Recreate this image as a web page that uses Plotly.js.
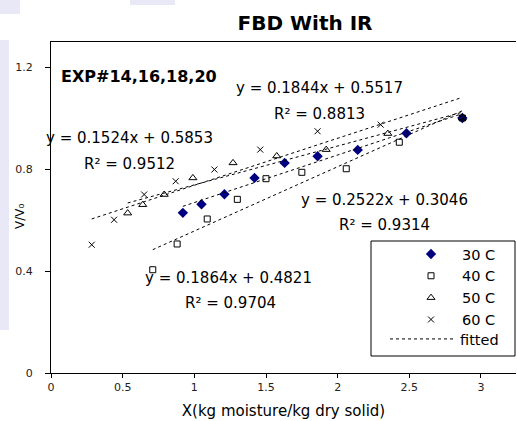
<!DOCTYPE html>
<html>
<head>
<meta charset="utf-8">
<script src="https://cdn.plot.ly/plotly-3.0.1.min.js"></script>
<style>html,body{margin:0;padding:0;background:#fff;}#chart{width:517px;height:421px;}</style>
</head>
<body>
<div id="chart"></div>
<script>
// ---- data ----
const seriesNames = ["30 C", "40 C", "50 C", "60 C"];
const x30 = [0.92, 1.05, 1.21, 1.42, 1.63, 1.86, 2.14, 2.48, 2.87];
const y30 = [0.628, 0.662, 0.701, 0.765, 0.824, 0.850, 0.875, 0.940, 1.0];
const x40 = [0.71, 0.88, 1.09, 1.30, 1.50, 1.75, 2.06, 2.43, 2.87];
const y40 = [0.405, 0.506, 0.604, 0.681, 0.762, 0.787, 0.801, 0.905, 1.0];
const x50 = [0.535, 0.64, 0.79, 0.99, 1.27, 1.575, 1.92, 2.35, 2.87];
const y50 = [0.627, 0.660, 0.700, 0.765, 0.824, 0.851, 0.876, 0.939, 1.0];
const x60 = [0.284, 0.44, 0.65, 0.87, 1.14, 1.46, 1.86, 2.30, 2.87];
const y60 = [0.503, 0.601, 0.700, 0.752, 0.798, 0.876, 0.948, 0.974, 1.0];
// trendline coefficients printed on the chart
const slopes = [0.1864, 0.2522, 0.1524, 0.1844];
const intercepts = [0.4821, 0.3046, 0.5853, 0.5517];
const r2 = [0.9704, 0.9314, 0.9512, 0.8813];
const xTickVals = [0, 0.5, 1, 1.5, 2, 2.5, 3];
const xTickText = ["0", "0.5", "1", "1.5", "2", "2.5", "3"];
const yTickVals = [0, 0.4, 0.8, 1.2];
const yTickText = ["0", "0.4", "0.8", "1.2"];

const xs = [x30, x40, x50, x60];
const ys = [y30, y40, y50, y60];

// ---- layout geometry (pixels) ----
const W = 517, H = 421;
const mL = 51, mR = 1, mT = 42, mB = 48;
const pw = W - mL - mR, ph = H - mT - mB;
const xMax = pw / 143.33, yMax = ph / 255;
const px = p => (p - mL) / pw;          // pixel x -> paper
const py = p => (H - mB - p) / ph;      // pixel y -> paper

const markerStyles = [
  {symbol: "diamond", size: 8, color: "#000080", line: {width: 0}},
  {symbol: "square-open", size: 6, color: "#000000", line: {width: 1}},
  {symbol: "triangle-up-open", size: 7, color: "#000000", line: {width: 1}},
  {symbol: "x-thin-open", size: 6, color: "#000000", line: {width: 1, color: "#000000"}}
];

const traces = [];
for (let i = 0; i < 4; i++) {
  traces.push({
    type: "scatter", mode: "markers", name: seriesNames[i], legend: "legend",
    x: xs[i], y: ys[i], marker: markerStyles[i], cliponaxis: false
  });
}
for (let i = 0; i < 4; i++) {
  const x0 = Math.min(...xs[i]), x1 = Math.max(...xs[i]);
  traces.push({
    type: "scatter", mode: "lines", name: "fitted", legend: "legend2",
    showlegend: i === 0,
    x: [x0, x1], y: [slopes[i] * x0 + intercepts[i], slopes[i] * x1 + intercepts[i]],
    line: {color: "#000000", width: 1, dash: "3px,3px"}
  });
}

// equation label positions (pixel centres)
const eqPos = [
  {ex: 228, ey: 278, rx: 230, ry: 303},   // 30 C
  {ex: 384, ey: 200, rx: 384, ry: 225},   // 40 C
  {ex: 129, ey: 138, rx: 129, ry: 164},   // 50 C
  {ex: 319, ey: 88, rx: 319, ry: 114}     // 60 C
];
const eqFont = {family: "DejaVu Sans", size: 15, color: "#000"};
const annotations = [];
for (let i = 0; i < 4; i++) {
  annotations.push({
    xref: "paper", yref: "paper", x: px(eqPos[i].ex), y: py(eqPos[i].ey),
    text: "y = " + slopes[i] + "x + " + intercepts[i], showarrow: false,
    xanchor: "center", yanchor: "middle", font: eqFont
  });
  annotations.push({
    xref: "paper", yref: "paper", x: px(eqPos[i].rx), y: py(eqPos[i].ry),
    text: "R\u00B2 = " + r2[i], showarrow: false,
    xanchor: "center", yanchor: "middle", font: eqFont
  });
}
annotations.push({
  xref: "paper", yref: "paper", x: px(59), y: py(76), xanchor: "left", yanchor: "middle",
  text: "EXP#14,16,18,20", showarrow: false,
  font: {family: "DejaVu Sans", size: 16, weight: "bold", color: "#000"}
});
annotations.push({
  xref: "paper", yref: "paper", x: px(20), y: py(217), xanchor: "center", yanchor: "middle",
  text: "V/V\u2080", showarrow: false, textangle: -90,
  font: {family: "DejaVu Sans", size: 12, color: "#000"}
});

const bgFill = "#e8e8f6";
const shapes = [
  {type: "rect", xref: "paper", yref: "paper", x0: px(0), x1: px(20), y0: py(14), y1: py(0), fillcolor: bgFill, line: {width: 0}, layer: "below"},
  {type: "rect", xref: "paper", yref: "paper", x0: px(130), x1: px(175), y0: py(5), y1: py(0), fillcolor: bgFill, line: {width: 0}, layer: "below"},
  {type: "rect", xref: "paper", yref: "paper", x0: px(0), x1: px(9), y0: py(330), y1: py(40), fillcolor: bgFill, line: {width: 0}, layer: "below"},
  // legend frame
  {type: "rect", xref: "paper", yref: "paper", x0: px(371), x1: px(515), y0: py(356), y1: py(241), fillcolor: "#ffffff", line: {width: 1, color: "#000"}, layer: "above"}
];

const legendFont = {family: "DejaVu Sans", size: 14.5, color: "#000"};
const layout = {
  width: W, height: H,
  margin: {l: mL, r: mR, t: mT, b: mB, pad: 0},
  paper_bgcolor: "#ffffff", plot_bgcolor: "#ffffff",
  font: {family: "DejaVu Sans", color: "#000"},
  title: {
    text: "FBD With IR", font: {family: "DejaVu Sans", size: 20, weight: "bold", color: "#000"},
    xref: "paper", x: px(305), xanchor: "center",
    yref: "container", y: 1 - 23 / H, yanchor: "middle"
  },
  xaxis: {
    range: [0, xMax], tickvals: xTickVals, ticktext: xTickText,
    showgrid: false, zeroline: false, showline: true, linecolor: "#000", linewidth: 1, mirror: true,
    ticks: "outside", ticklen: 4, tickcolor: "#000",
    tickfont: {family: "DejaVu Sans", size: 11, color: "#222"},
    title: {text: "X(kg moisture/kg dry solid)", font: {family: "DejaVu Sans", size: 15, color: "#000"}, standoff: 12}
  },
  yaxis: {
    range: [0, yMax], tickvals: yTickVals, ticktext: yTickText,
    showgrid: false, zeroline: false, showline: true, linecolor: "#000", linewidth: 1, mirror: false,
    ticks: "outside", ticklen: 5, tickcolor: "#000", ticklabelstandoff: 10,
    tickfont: {family: "DejaVu Sans", size: 11, color: "#222"}
  },
  legend: {
    x: px(400), y: py(238), xanchor: "left", yanchor: "top",
    bgcolor: "rgba(0,0,0,0)", borderwidth: 0,
    font: legendFont, itemwidth: 52, tracegroupgap: 0
  },
  legend2: {
    x: px(385), y: py(323), xanchor: "left", yanchor: "top",
    bgcolor: "rgba(0,0,0,0)", borderwidth: 0,
    font: legendFont, itemwidth: 65
  },
  annotations: annotations,
  shapes: shapes,
  showlegend: true
};

Plotly.newPlot("chart", traces, layout, {displayModeBar: false, staticPlot: true});
</script>
</body>
</html>
